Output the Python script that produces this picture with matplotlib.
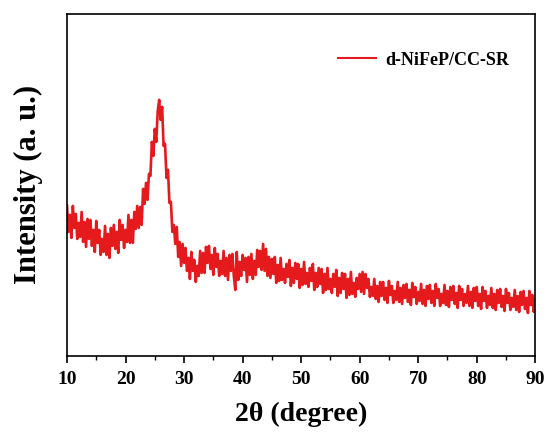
import matplotlib
matplotlib.use("Agg")
import matplotlib.pyplot as plt
import matplotlib.ticker as mticker
import numpy as np

plt.rcParams.update({
    "font.family": "serif",
    "font.serif": ["Liberation Serif", "DejaVu Serif"],
    "font.weight": "bold",
    "axes.linewidth": 1.2,
})

# XRD pattern, 0.25 deg step starting at 10 deg
START, STEP = 10.0, 0.25
intensity = [
    150, 124, 141, 118,   # 10
    150, 128, 142, 117,   # 11
    133, 119, 144, 114,   # 12
    134, 109, 137, 117,   # 13
    136, 110, 126, 104,   # 14
    135, 113, 126, 101,   # 15
    117, 104, 130, 101,   # 16
    122, 98, 128, 110,    # 17
    131, 107, 124, 103,   # 18
    136, 116, 131, 108,   # 19
    126, 114, 141, 113,   # 20
    136, 113, 144, 127,   # 21
    150, 128, 149, 131,   # 22
    167, 152, 173, 156,   # 23
    182, 180, 214, 200,   # 24
    227, 214, 245, 256,   # 25
    236, 249, 210, 212,   # 26
    178, 186, 153, 154,   # 27
    124, 131, 112, 129,   # 28
    99, 114, 90, 112,     # 29
    93, 108, 85, 98,      # 30
    77, 104, 85, 96,      # 31
    74, 90, 80, 105,      # 32
    83, 103, 83, 109,     # 33
    93, 110, 87, 101,     # 34
    81, 108, 89, 102,     # 35
    80, 95, 82, 105,      # 36
    80, 98, 76, 101,      # 37
    85, 102, 80, 66,      # 38
    104, 76, 94, 80,      # 39
    101, 86, 98, 74,      # 40
    99, 81, 102, 77,      # 41
    95, 81, 106, 89,      # 42
    105, 86, 112, 85,     # 43
    107, 80, 99, 78,      # 44
    97, 82, 99, 73,       # 45
    91, 75, 98, 76,       # 46
    87, 73, 92, 79,       # 47
    96, 70, 88, 73,       # 48
    93, 77, 92, 68,       # 49
    87, 71, 94, 72,       # 50
    83, 69, 88, 75,       # 51
    92, 66, 83, 69,       # 52
    88, 72, 87, 63,       # 53
    82, 66, 88, 67,       # 54
    77, 63, 82, 69,       # 55
    86, 60, 78, 63,       # 56
    83, 67, 82, 58,       # 57
    77, 61, 84, 62,       # 58
    73, 59, 78, 67,       # 59
    82, 64, 84, 62,       # 60
    82, 68, 77, 59,       # 61
    69, 60, 77, 57,       # 62
    70, 54, 74, 60,       # 63
    74, 56, 68, 53,       # 64
    75, 61, 70, 53,       # 65
    65, 56, 74, 54,       # 66
    68, 52, 71, 58,       # 67
    72, 54, 66, 51,       # 68
    73, 59, 69, 52,       # 69
    64, 55, 72, 52,       # 70
    66, 50, 70, 57,       # 71
    71, 53, 65, 50,       # 72
    72, 58, 67, 50,       # 73
    62, 53, 71, 51,       # 74
    65, 49, 69, 56,       # 75
    70, 52, 63, 48,       # 76
    70, 56, 67, 50,       # 77
    62, 53, 70, 50,       # 78
    64, 48, 68, 55,       # 79
    69, 50, 62, 47,       # 80
    69, 55, 65, 48,       # 81
    60, 51, 68, 48,       # 82
    62, 46, 66, 53,       # 83
    67, 49, 60, 45,       # 84
    67, 53, 63, 46,       # 85
    58, 49, 66, 46,       # 86
    60, 44, 64, 51,       # 87
    65, 47, 58, 43,       # 88
    65, 51, 61, 44,       # 89
    56,                   # 90
]
two_theta = START + STEP * np.arange(len(intensity))

SERIES_LABEL = "d-NiFeP/CC-SR"
LINE_COLOR = "#E41A1C"

fig = plt.figure(figsize=(5.47, 4.32), dpi=100)
ax = fig.add_axes([0.1225, 0.176, 0.856, 0.792])

ax.plot(two_theta, intensity, color=LINE_COLOR, lw=1.9, label=SERIES_LABEL)

ax.set_xlim(10, 90)
ax.set_ylim(0, 342)
ax.xaxis.set_major_locator(mticker.MultipleLocator(10))
ax.xaxis.set_minor_locator(mticker.MultipleLocator(5))
ax.set_yticks([])
ax.tick_params(axis="x", which="major", direction="out", length=5, width=1.2,
               labelsize=14, pad=6)
ax.tick_params(axis="x", which="minor", direction="out", length=3, width=1.0)
for lbl in ax.get_xticklabels():
    lbl.set_fontweight("bold")

ax.set_xlabel("2\u03b8 (degree)", fontsize=20, fontweight="bold", labelpad=10)
ax.set_ylabel("Intensity (a. u.)", fontsize=22, fontweight="bold", labelpad=17)

leg = ax.legend(loc="upper right", bbox_to_anchor=(0.978, 0.937), frameon=False,
                handlelength=2.1, handletextpad=0.5,
                prop={"size": 13, "weight": "bold"})
leg.get_lines()[0].set_linewidth(1.5)

fig.savefig("out.png", dpi=100)
